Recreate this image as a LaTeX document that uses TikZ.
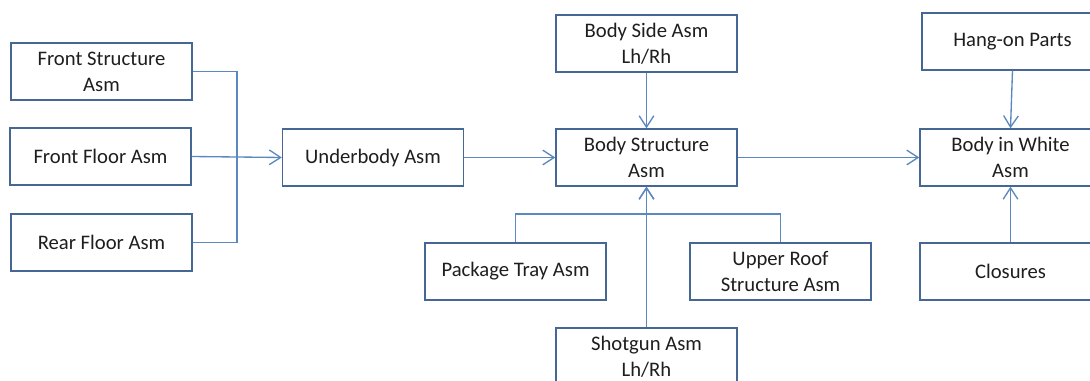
\documentclass[tikz,border=0pt]{standalone}
\usepackage{fontspec}
\setmainfont{Carlito}
\usetikzlibrary{arrows.meta}
\definecolor{boxline}{RGB}{70,102,148}
\definecolor{connline}{RGB}{92,136,192}
\definecolor{txt}{RGB}{30,30,30}
\tikzset{
  blk/.style={draw=boxline, line width=1pt, minimum width=135.75pt, minimum height=42.75pt,
    align=center, inner sep=0pt, text=txt, font=\fontsize{15.5}{19.5}\selectfont},
  conn/.style={draw=connline, line width=1pt},
  arr/.style={conn, -{Straight Barb[length=8.5pt,width=11pt,line width=1pt]}}
}
\begin{document}
\begin{tikzpicture}[x=0.75pt,y=-0.75pt]
\useasboundingbox (0,0) rectangle (1090,381);
\clip (0,0) rectangle (1090,381);
\fill[white] (0,0) rectangle (1090,381);
\node[blk] (fs) at (101.5,71.5) {Front Structure\\Asm};
\node[blk] (ff) at (100.5,156.5) {Front Floor Asm};
\node[blk] (rf) at (101.5,242.5) {Rear Floor Asm};
\node[blk] (ub) at (373,157.5) {Underbody Asm};
\node[blk] (bs) at (646.5,43.5) {Body Side Asm\\Lh/Rh};
\node[blk] (bst) at (646.5,157.5) {Body Structure\\Asm};
\node[blk] (pt) at (515.5,271.5) {Package Tray Asm};
\node[blk] (ur) at (780.5,271.5) {Upper Roof\\Structure Asm};
\node[blk] (sg) at (646.5,356.5) {Shotgun Asm\\Lh/Rh};
\node[blk] (ho) at (1012.5,41.5) {Hang-on Parts};
\node[blk] (biw) at (1010.5,157.5) {Body in White\\Asm};
\node[blk] (cl) at (1010.5,271.5) {Closures};
\coordinate (busL) at (237,157);
\coordinate (busB) at (646.5,214);
\draw[conn] (fs.east) -| (busL) |- (rf.east);
\draw[arr] (ff.east) -- (ub.west);
\draw[arr] (ub.east) -- (bst.west);
\draw[arr] (bs.south) -- (bst.north);
\draw[conn] (pt.north) |- (busB) -| (ur.north);
\draw[arr] (sg.north) -- (bst.south);
\draw[arr] (busB) -- (bst.south);
\draw[arr] (bst.east) -- (biw.west);
\draw[arr] (ho.south) -- (biw.north);
\draw[arr] (cl.north) -- (biw.south);
\end{tikzpicture}
\end{document}
